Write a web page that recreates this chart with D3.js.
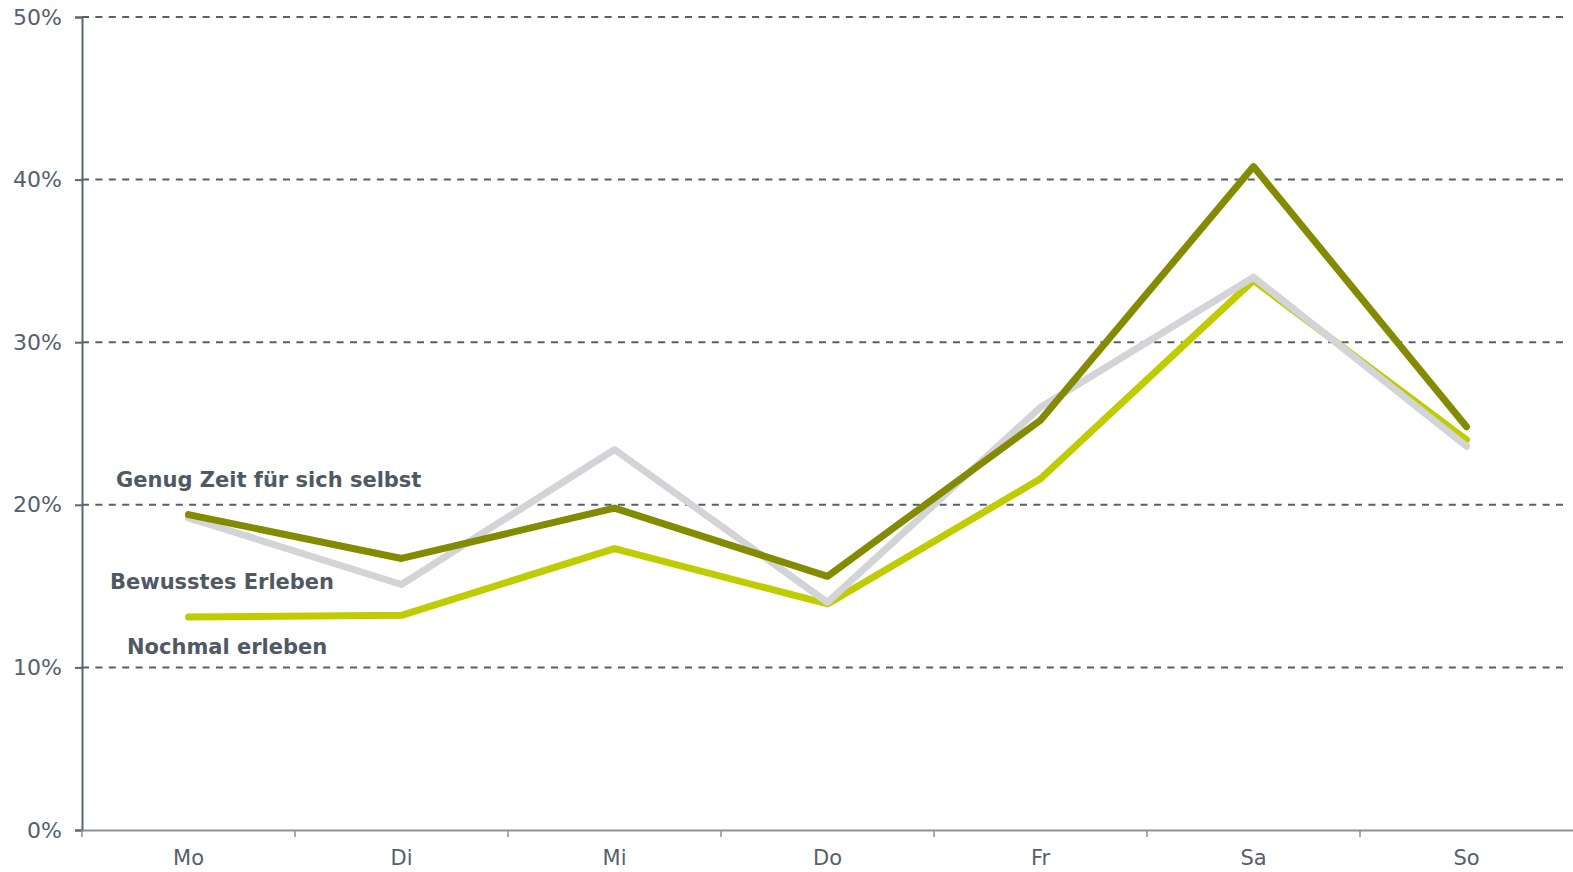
<!DOCTYPE html>
<html>
<head>
<meta charset="utf-8">
<script src="https://cdn.jsdelivr.net/npm/d3@7"></script>
<style>
  html, body { margin: 0; padding: 0; background: #fff; }
  svg { display: block; font-family: "DejaVu Sans", Verdana, sans-serif; }
</style>
</head>
<body>
<svg id="chart" width="1573" height="872"></svg>
<script>
// Wochentage und Anteile (in %)
const days = ["Mo", "Di", "Mi", "Do", "Fr", "Sa", "So"];
const seriesNames = ["Nochmal erleben", "Bewusstes Erleben", "Genug Zeit für sich selbst"];
const nochmalErleben   = [13.1, 13.2, 17.3, 13.9, 21.6, 33.8, 24.0];
const bewusstesErleben = [19.2, 15.1, 23.4, 14.0, 26.0, 34.0, 23.6];
const genugZeit        = [19.4, 16.7, 19.8, 15.6, 25.2, 40.8, 24.8];
const yTicks = [0, 10, 20, 30, 40, 50];

const series = [
  { name: seriesNames[0], values: nochmalErleben,   color: "#bfcd00", label: [127, 654] },
  { name: seriesNames[1], values: bewusstesErleben, color: "#d3d4d8", label: [110, 589] },
  { name: seriesNames[2], values: genugZeit,        color: "#838b00", label: [116, 487] }
];

const svg = d3.select("#chart");
const margin = { left: 82, right: 0, top: 17, bottom: 42 };
const W = 1573, H = 872;

const x = d3.scaleBand().domain(days).range([margin.left, W - margin.right]).padding(0);
const y = d3.scaleLinear().domain([0, 50]).range([H - margin.bottom, margin.top]);

const axisColor = "#5d6670";
const textColor = "#56606b";

// Horizontale Gitterlinien
svg.append("g").selectAll("line")
  .data(yTicks.filter(t => t > 0))
  .join("line")
  .attr("x1", margin.left).attr("x2", W - 5)
  .attr("y1", d => y(d)).attr("y2", d => y(d))
  .attr("stroke", "#56606c").attr("stroke-width", 2)
  .attr("stroke-dasharray", "7,6.4");

// y-Achse
const yAxis = svg.append("g")
  .attr("transform", `translate(${margin.left},0)`)
  .call(d3.axisLeft(y).tickValues(yTicks).tickFormat(d => d + "%").tickSize(7).tickPadding(13));
yAxis.select(".domain").attr("stroke", axisColor).attr("stroke-width", 2);
yAxis.selectAll(".tick line").attr("stroke", axisColor).attr("stroke-width", 2);
yAxis.selectAll(".tick text").attr("fill", textColor).attr("font-size", 22)
  .attr("font-family", "DejaVu Sans, Verdana, sans-serif");

// x-Achse
const xAxis = svg.append("g")
  .attr("transform", `translate(0,${y(0)})`)
  .call(d3.axisBottom(x).tickSize(0).tickPadding(20));
xAxis.select(".domain").attr("stroke", "#8a929b").attr("stroke-width", 2);
xAxis.selectAll(".tick text").attr("fill", textColor).attr("font-size", 21)
  .attr("font-family", "DejaVu Sans, Verdana, sans-serif");
// Trennstriche zwischen den Tagen
svg.append("g").selectAll("line")
  .data(days)
  .join("line")
  .attr("x1", d => x(d)).attr("x2", d => x(d))
  .attr("y1", y(0)).attr("y2", y(0) + 7)
  .attr("stroke", "#8a929b").attr("stroke-width", 1.5);

// Linien
const line = d3.line()
  .x((d, i) => x(days[i]) + x.bandwidth() / 2)
  .y(d => y(d));

svg.append("g").selectAll("path")
  .data(series)
  .join("path")
  .attr("d", d => line(d.values))
  .attr("fill", "none")
  .attr("stroke", d => d.color)
  .attr("stroke-width", 7)
  .attr("stroke-linecap", "round")
  .attr("stroke-linejoin", "round");

// Reihenbeschriftungen
svg.append("g").selectAll("text")
  .data(series)
  .join("text")
  .attr("x", d => d.label[0])
  .attr("y", d => d.label[1])
  .attr("fill", "#4f5964")
  .attr("font-size", 21)
  .attr("font-weight", "bold")
  .text(d => d.name);
</script>
</body>
</html>
